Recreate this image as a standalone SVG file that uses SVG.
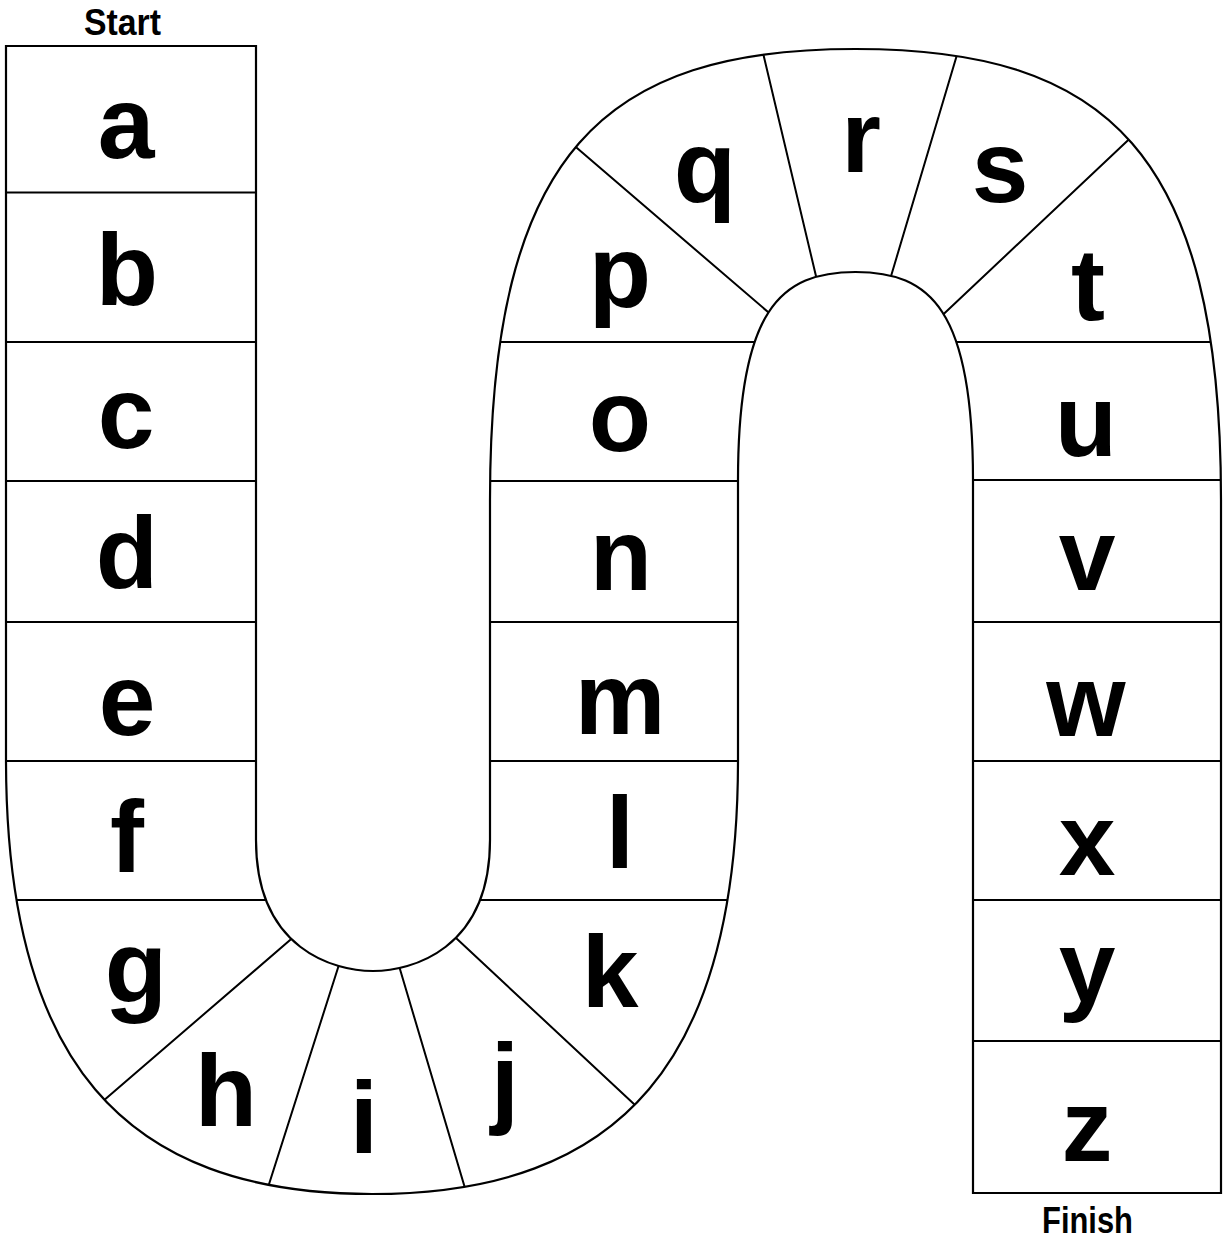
<svg xmlns="http://www.w3.org/2000/svg" width="1223" height="1241" viewBox="0 0 1223 1241">
<style>
.ln{stroke:#000;stroke-width:2;fill:none}
.ol{stroke:#000;stroke-width:2.2;fill:#fff}
.L{font-family:"Liberation Sans",Arial,sans-serif;font-weight:700;font-size:102px;text-anchor:middle;fill:#000}
.T{font-family:"Liberation Sans",Arial,sans-serif;font-weight:700;font-size:37px;text-anchor:middle;fill:#000}
</style>
<defs>
<path id="board" d="M6,46 H256 V840 C256,950 335,971 373,971 C411,971 490,950 490,840 V500 C490,150 605.5,49 855.5,49 C1105.5,49 1221,150 1221,500 V1193 H973 V480 C973,310 930.5,272 855.5,272 C780.5,272 738,310 738,480 V760 C738,1060 622,1194 372,1194 C122,1194 6,1060 6,760 Z"/>
<clipPath id="clip"><use href="#board"/></clipPath>
</defs>
<rect width="1223" height="1241" fill="#fff"/>
<use href="#board" class="ol"/>
<g id="dividers" clip-path="url(#clip)" class="ln">
<path d="M0,192.5H272M0,342H272M0,481H272M0,622H272M0,761H272M0,900H272"/>
<path d="M470,342H760M470,481H760M470,622H760M470,761H760M470,900H760"/>
<path d="M950,342H1235M950,480H1235M950,622H1235M950,761H1235M950,900H1235M950,1041H1235"/>
<path d="M304,928L88,1114M344,949L263,1203M394,949L470,1205M441,924L650,1119"/>
<path d="M782,324L563,136M820,293L759,36M886,293L962,38M932,325L1141,128"/>
</g>
<text class="T" x="122.5" y="35" textLength="77" lengthAdjust="spacingAndGlyphs">Start</text>
<text class="T" x="1087.5" y="1233" textLength="91" lengthAdjust="spacingAndGlyphs">Finish</text>
<g id="cell-a"><text class="L" x="126" y="158">a</text></g>
<g id="cell-b"><text class="L" x="127" y="305">b</text></g>
<g id="cell-c"><text class="L" x="126" y="448">c</text></g>
<g id="cell-d"><text class="L" x="127" y="588">d</text></g>
<g id="cell-e"><text class="L" x="127" y="735">e</text></g>
<g id="cell-f"><text class="L" x="127" y="872">f</text></g>
<g id="cell-g"><text class="L" x="136" y="1003">g</text></g>
<g id="cell-h"><text class="L" x="226" y="1126">h</text></g>
<g id="cell-i"><text class="L" x="364" y="1153">i</text></g>
<g id="cell-j"><text class="L" x="505" y="1115">j</text></g>
<g id="cell-k"><text class="L" x="610" y="1007">k</text></g>
<g id="cell-l"><text class="L" x="620" y="868">l</text></g>
<g id="cell-m"><text class="L" x="620" y="734">m</text></g>
<g id="cell-n"><text class="L" x="621" y="590">n</text></g>
<g id="cell-o"><text class="L" x="620" y="451">o</text></g>
<g id="cell-p"><text class="L" x="620" y="307">p</text></g>
<g id="cell-q"><text class="L" x="705" y="202">q</text></g>
<g id="cell-r"><text class="L" x="861" y="172">r</text></g>
<g id="cell-s"><text class="L" x="1000" y="202">s</text></g>
<g id="cell-t"><text class="L" x="1088" y="320">t</text></g>
<g id="cell-u"><text class="L" x="1086" y="456">u</text></g>
<g id="cell-v"><text class="L" x="1087" y="590">v</text></g>
<g id="cell-w"><text class="L" x="1086" y="736">w</text></g>
<g id="cell-x"><text class="L" x="1087" y="875">x</text></g>
<g id="cell-y"><text class="L" x="1087" y="1002">y</text></g>
<g id="cell-z"><text class="L" x="1087" y="1161">z</text></g>
</svg>
